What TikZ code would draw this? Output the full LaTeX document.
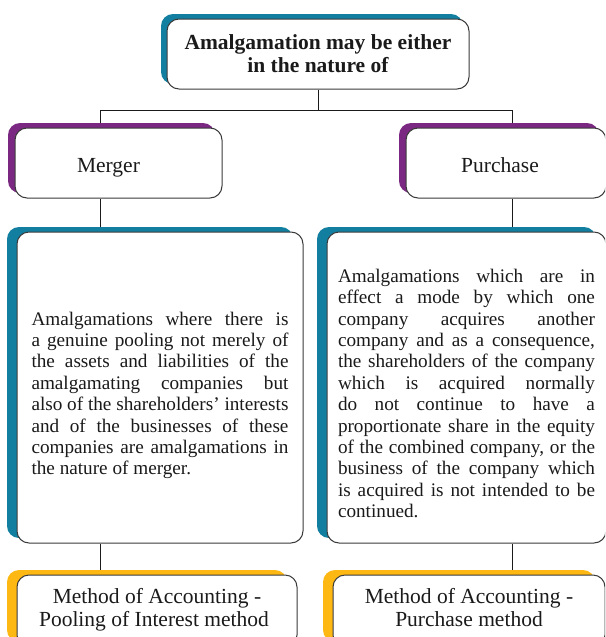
\documentclass[tikz,border=0pt]{standalone}
\usepackage{fontspec}
\setmainfont{Liberation Serif}
\usetikzlibrary{shadows,backgrounds}
\definecolor{Ink}{HTML}{1A1A1A}
\definecolor{Edge}{HTML}{3A3A3A}
\definecolor{Teal}{HTML}{127EA0}
\definecolor{Plum}{HTML}{7A2882}
\definecolor{Gold}{HTML}{FDB813}
\newcommand{\headfont}{\fontsize{21.5}{23}\selectfont}
\newcommand{\bodyfont}{\fontsize{19.2}{21.4}\selectfont}
\newcommand{\jline}[1]{\makebox[257pt][s]{#1}\\}
\tikzset{
  box/.style={draw=Edge,line width=1pt,rounded corners=12pt,fill=white,text=Ink,inner sep=0pt,align=center},
  shade/.style 2 args={general shadow={fill=#1,shadow xshift=-#2,shadow yshift=5pt}},
  boxteal/.style={box,shade={Teal}{10pt}},
  boxplum/.style={box,shade={Plum}{7pt},minimum height=70pt,font=\headfont,text height=20pt,text depth=2pt},
  boxgold/.style={box,shade={Gold}{10pt},minimum height=72pt,font=\headfont},
  defbox/.style={boxteal,minimum height=311pt},
  link/.style={draw=Ink,line width=1pt}
}

\begin{document}
\begin{tikzpicture}[x=1pt,y=-1pt]
  \useasboundingbox (0,0) rectangle (605,637);
  \clip (0,0) rectangle (605,637);
  % heading
  \node[box,shade={Teal}{6pt},minimum width=302pt,minimum height=70pt,font=\headfont\bfseries] (top) at (318,54) {Amalgamation may be either\\in the nature of};
  % two kinds
  \node[boxplum,minimum width=207pt] (merger) at (118.5,163) {Merger\hspace{20pt}};
  \node[boxplum,minimum width=200pt] (purchase) at (506,163) {Purchase\hspace{12pt}};
  % definitions
  \node[defbox,minimum width=286pt] (mergerdef) at (160,387.5) {\begin{minipage}{257pt}\bodyfont
    \vspace*{16pt}
    \jline{Amalgamations where there is}
    \jline{a genuine pooling not merely of}
    \jline{the assets and liabilities of the}
    \jline{amalgamating companies but}
    \jline{also of the shareholders’ interests}
    \jline{and of the businesses of these}
    \jline{companies are amalgamations in}
    the nature of merger.\end{minipage}};
  \node[defbox,minimum width=279pt] (purchasedef) at (466.5,387.5) {\begin{minipage}{257pt}\bodyfont
    \vspace*{12pt}
    \jline{Amalgamations which are in}
    \jline{effect a mode by which one}
    \jline{company acquires another}
    \jline{company and as a consequence,}
    \jline{the shareholders of the company}
    \jline{which is acquired normally}
    \jline{do not continue to have a}
    \jline{proportionate share in the equity}
    \jline{of the combined company, or the}
    \jline{business of the company which}
    \jline{is acquired is not intended to be}
    continued.\end{minipage}};
  % accounting methods
  \node[boxgold,minimum width=280pt] (pooling) at (157,611) {Method of Accounting -\hspace{6pt}\\Pooling of Interest method\hspace{6pt}\strut};
  \node[boxgold,minimum width=272pt] (purchmethod) at (469,611) {Method of Accounting -\\Purchase method\strut};
  % connectors
  \coordinate (lbus) at (100,110);
  \coordinate (rbus) at (512,110);
  \begin{scope}[on background layer]
    \draw[link] (top.south) -- (top.south |- lbus);
    \draw[link] (merger.north -| lbus) -- (lbus) -- (rbus) -- (purchase.north -| rbus);
    \draw[link] (merger.south -| lbus) -- (mergerdef.north -| lbus);
    \draw[link] (purchase.south -| rbus) -- (purchasedef.north -| rbus);
    \draw[link] (mergerdef.south -| lbus) -- (pooling.north -| lbus);
    \draw[link] (purchasedef.south -| rbus) -- (purchmethod.north -| rbus);
  \end{scope}
\end{tikzpicture}
\end{document}
